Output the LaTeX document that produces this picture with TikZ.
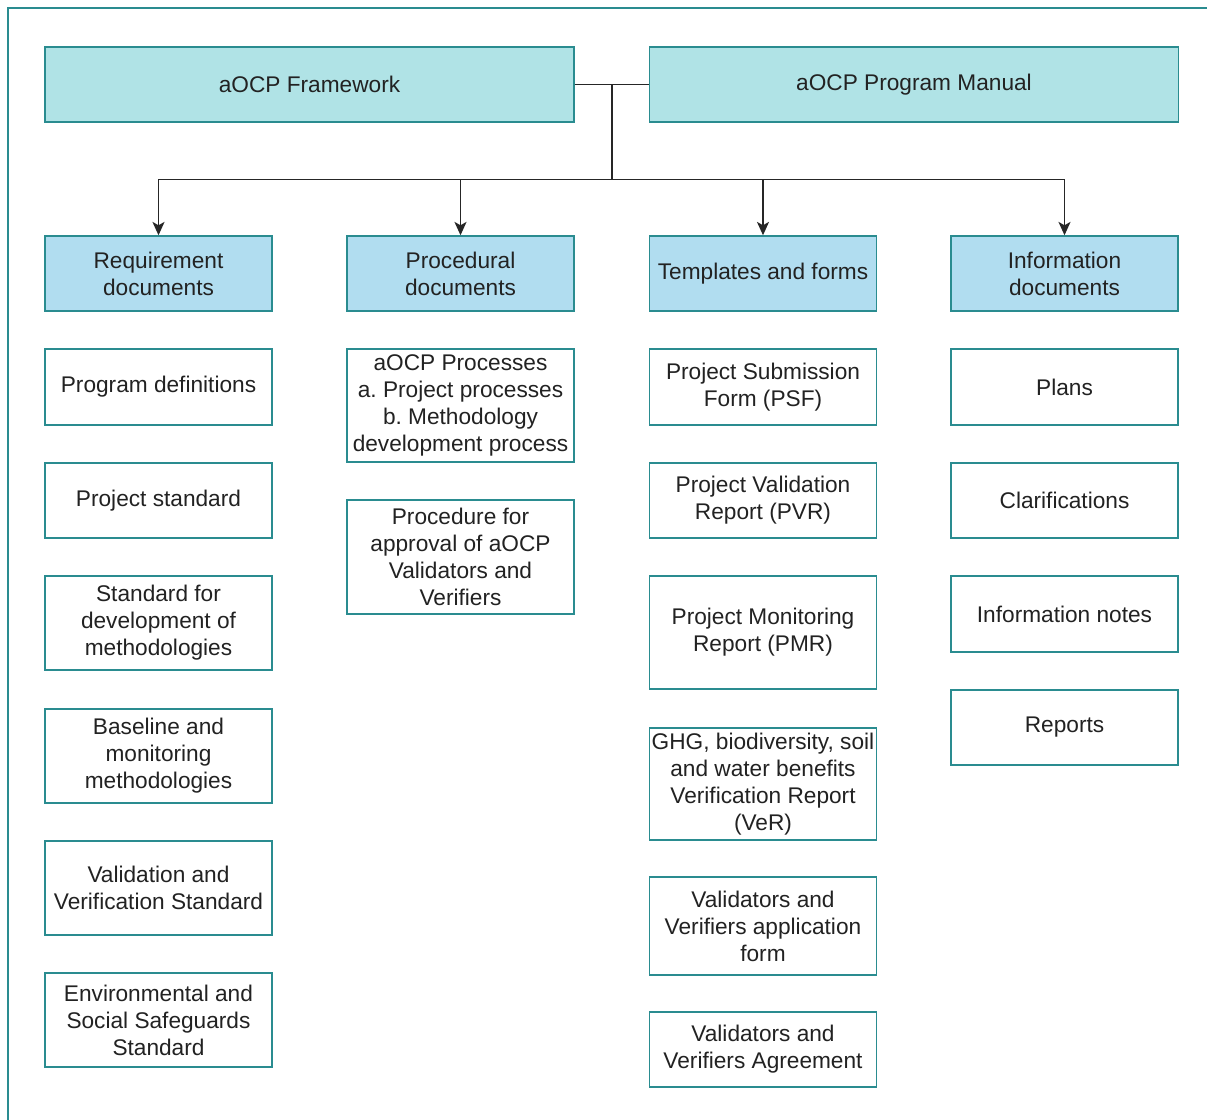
\documentclass[tikz,border=0pt]{standalone}
\usepackage{fontspec}
\setmainfont{Liberation Sans}
\usetikzlibrary{arrows.meta,calc,positioning}
\definecolor{tealline}{HTML}{2A8C90}
\definecolor{headfill}{HTML}{B0E3E6}
\definecolor{catfill}{HTML}{B1DDF0}
\definecolor{textgray}{HTML}{222222}
\newcommand{\px}{0.75pt}
\frenchspacing
\tikzset{
	doc chart/.style={
		x=\px, y=-\px,
		wire/.style={draw=black!85, line width=1.4pt},
		arr/.style={wire, -{Stealth[length=10pt,width=9pt,inset=2.5pt]}},
		frame/.style={draw=tealline, line width=1.1pt}
		},
	ht/.style={minimum height=#1*\px},
	doc box/.style={draw=tealline, line width=1.1pt, fill=white, align=center,
		inner sep=1pt, minimum width=227*\px, minimum height=75*\px,
		text=textgray, font=\fontsize{17}{20.3}\selectfont},
	head box/.style={doc box, fill=headfill, minimum width=529*\px},
	cat box/.style={doc box, fill=catfill}
}

\begin{document}
\begin{tikzpicture}[doc chart]
      \useasboundingbox (0,0) rectangle (1207,1120);
      \draw[frame] (8,1130) -- (8,8) -- (1215,8);
      % top level
      \node[head box] (framework) at (309.5,84.5) {aOCP Framework};
      \node[head box] (manual) at (914,84.5) {aOCP Program Manual};
      % categories
      \node[cat box] (req)  at (158.5,273.5) {Requirement\\documents};
      \node[cat box] (proc) at (460.5,273.5) {Procedural\\documents};
      \node[cat box] (tmpl) at (763,273.5)   {Templates and forms};
      \node[cat box] (info) at (1064.5,273.5) {Information\\documents};
      % requirement documents
      \node[doc box, ht=76] (progdef) at (158.5,387)   {Program definitions};
      \node[doc box]        (projstd) at (158.5,500.5) {Project standard};
      \node[doc box, ht=94] (methstd) at (158.5,623)   {Standard for\\development of\\methodologies};
      \node[doc box, ht=94] (baseline) at (158.5,756)  {Baseline and\\monitoring\\methodologies};
      \node[doc box, ht=94] (vvstd)   at (158.5,888)   {Validation and\\Verification Standard};
      \node[doc box, ht=94] (esstd)   at (158.5,1020)  {Environmental and\\Social Safeguards\\Standard};
      % procedural documents
      \node[doc box, ht=113] (processes) at (460.5,405.5) {aOCP Processes\\a. Project processes\\b. Methodology\\development process};
      \node[doc box, ht=114] (approval)  at (460.5,557)   {Procedure for\\approval of aOCP\\Validators and\\Verifiers};
      % templates and forms
      \node[doc box, ht=76]  (psf) at (763,387)    {Project Submission\\Form (PSF)};
      \node[doc box]         (pvr) at (763,500.5)  {Project Validation\\Report (PVR)};
      \node[doc box, ht=113] (pmr) at (763,632.5)  {Project Monitoring\\Report (PMR)};
      \node[doc box, ht=112] (ver) at (763,784)    {GHG, biodiversity, soil\\and water benefits\\Verification Report\\(VeR)};
      \node[doc box, ht=98]  (vvform) at (763,926) {Validators and\\Verifiers application\\form};
      \node[doc box]         (vvagree) at (763,1049.5) {Validators and\\Verifiers Agreement};
      % information documents
      \node[doc box, ht=76] (plans) at (1064.5,387)   {Plans};
      \node[doc box]        (clar)  at (1064.5,500.5) {Clarifications};
      \node[doc box, ht=76] (notes) at (1064.5,614)   {Information notes};
      \node[doc box]        (reps)  at (1064.5,727.5) {Reports};
      % connectors
      \coordinate (hub) at ($(framework.east)!.5!(manual.west)$);
      \draw[wire] (framework) -- (manual);
      \draw[wire] (hub) -- ++(0,95) coordinate (bus);
      \foreach \c in {req,proc,tmpl,info}
          \draw[arr] (bus) -| (\c);
   \end{tikzpicture}
\end{document}
